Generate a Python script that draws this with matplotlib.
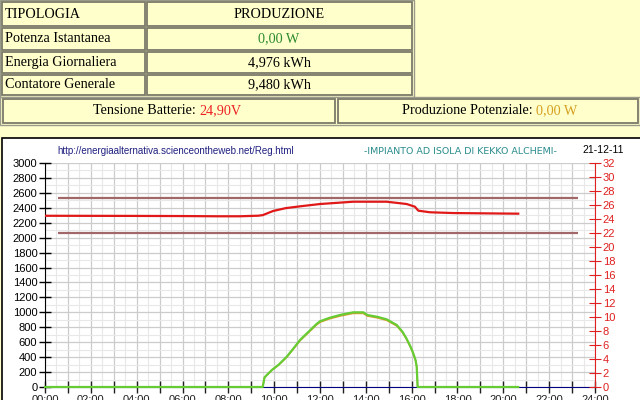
import matplotlib.pyplot as plt
from matplotlib.patches import Rectangle
from matplotlib.ticker import MultipleLocator, FuncFormatter

# table values
righe = ["Potenza Istantanea", "Energia Giornaliera", "Contatore Generale"]
valori = ["0,00 W", "4,976 kWh", "9,480 kWh"]
colori_valori = ["#2e8b2e", "black", "black"]
tensione = "24,90V"
potenziale = "0,00 W"

# solar power (W), left axis
ore_pv = [0, 9.5, 9.58, 9.9, 10.2, 10.55, 10.85, 11.13, 11.5, 11.85, 12.0, 12.4,
          12.87, 13.2, 13.45, 13.89, 14.07, 14.5, 14.91, 15.35, 15.6, 15.77,
          15.95, 16.07, 16.17, 16.22, 16.26, 20.65]
potenza = [0, 0, 130, 228, 300, 406, 520, 630, 740, 844, 880, 925,
           964, 985, 1000, 1000, 964, 940, 906, 830, 740, 652,
           540, 451, 360, 272, 0, 0]

# battery voltage (V), right axis
ore_v = [0, 2, 4, 6, 7.5, 8.5, 9.3, 9.5, 9.95, 10.5, 11.13, 12.0, 13.45, 14.91,
         15.78, 16.14, 16.29, 16.8, 17.82, 20.65]
volt = [24.46, 24.45, 24.44, 24.42, 24.39, 24.39, 24.47, 24.55, 25.14, 25.55,
        25.81, 26.14, 26.47, 26.47, 26.14, 25.76, 25.19, 24.96, 24.85, 24.76]

soglie = [27, 22]
soglie_ore = [0.57, 23.26]

GIALLO = "#ffffcc"

fig = plt.figure(figsize=(6.4, 4), dpi=100)
fig.patch.set_facecolor(GIALLO)

# overlay in pixel coordinates for the html-like tables
bg = fig.add_axes([0, 0, 1, 1])
bg.set_xlim(0, 640)
bg.set_ylim(400, 0)
bg.axis("off")

def cella(x0, y0, x1, y1):
    bg.add_patch(Rectangle((x0, y0), x1 - x0, y1 - y0, facecolor=GIALLO,
                           edgecolor="#7a7a6a", lw=1.3))

serif = dict(family="Liberation Serif", fontsize=10.2, va="center")

# first table
bg.add_patch(Rectangle((0, 0), 414, 97, facecolor=GIALLO, edgecolor="#9a9a8a", lw=1))
ys = [(2, 26), (28, 50), (52, 73), (75, 95)]
for y0, y1 in ys:
    cella(2, y0, 145, y1)
    cella(147, y0, 412, y1)
bg.text(5, 15, "TIPOLOGIA", **serif)
bg.text(279, 15, "PRODUZIONE", ha="center", **serif)
for i, (y0, y1) in enumerate(ys[1:]):
    yc = (y0 + y1) / 2
    bg.text(5, yc, righe[i], **serif)
    bg.text(279, yc, valori[i], ha="center", color=colori_valori[i], **serif)

# second table
bg.add_patch(Rectangle((0, 97), 640, 28, facecolor=GIALLO, edgecolor="#9a9a8a", lw=1))
cella(3, 99, 335, 123)
cella(338, 99, 638, 123)
bg.text(199, 111, "Tensione Batterie: ", ha="right", **serif)
bg.text(199, 111, tensione, ha="left", color="#ee2222", **serif)
bg.text(536, 111, "Produzione Potenziale: ", ha="right", **serif)
bg.text(536, 111, potenziale, ha="left", color="#d4a020", **serif)

# chart panel
bg.add_patch(Rectangle((2, 138), 640, 270, facecolor="white", edgecolor="black", lw=1.2))
bg.text(57, 151, "http://energiaalternativa.scienceontheweb.net/Reg.html",
        family="Liberation Sans", fontsize=7, color="#202080", va="center")
bg.text(460, 151, "-IMPIANTO AD ISOLA DI KEKKO ALCHEMI-",
        family="DejaVu Sans", fontsize=6.8, color="#2a8c8c", va="center", ha="center")
bg.text(603, 150, "21-12-11", family="Liberation Sans", fontsize=7.5,
        color="black", va="center", ha="center")

# main chart
ax = fig.add_axes([45 / 640, 1 - 387 / 400, 550 / 640, 224 / 400])
ax.set_facecolor("white")
ax.set_xlim(0, 24)
ax.set_ylim(0, 3000)
ax.xaxis.set_major_locator(MultipleLocator(1))
ax.xaxis.set_minor_locator(MultipleLocator(0.5))
ax.xaxis.set_major_formatter(FuncFormatter(
    lambda x, p: f"{int(round(x)):02d}:00" if int(round(x)) % 2 == 0 else ""))
ax.yaxis.set_major_locator(MultipleLocator(200))
ax.yaxis.set_minor_locator(MultipleLocator(100))
ax.grid(which="major", color="#cccccc", lw=0.9)
ax.grid(which="minor", color="#e8e8e8", lw=0.8)
ax.set_axisbelow(True)
ax.tick_params(which="major", direction="inout", length=9, width=1,
               labelsize=8, pad=1)
ax.tick_params(which="minor", length=0)
for lab in ax.get_xticklabels() + ax.get_yticklabels():
    lab.set_family("Liberation Sans")
ax.spines["top"].set_visible(False)
ax.spines["right"].set_visible(False)
ax.spines["bottom"].set_color("#000080")
ax.tick_params(axis="x", colors="#202020")

ax.plot(ore_pv, [p * 0.985 for p in potenza], color="#e09a30", lw=1.1, zorder=3)
ax.plot(ore_pv, potenza, color="#66cc33", lw=1.6, zorder=4, clip_on=False)

ax2 = ax.twinx()
ax2.set_ylim(0, 32)
ax2.yaxis.set_major_locator(MultipleLocator(2))
ax2.tick_params(axis="y", direction="inout", length=9, colors="#e02020",
                labelsize=8, pad=1)
for lab in ax2.get_yticklabels():
    lab.set_family("Liberation Sans")
for s in ["top", "left", "bottom"]:
    ax2.spines[s].set_visible(False)
ax2.spines["right"].set_color("#e02020")

ax2.hlines(soglie, soglie_ore[0], soglie_ore[1], color="#a06868", lw=1.6)
ax2.plot(ore_v, volt, color="#e01818", lw=1.6)

fig.savefig("out.png", dpi=100, facecolor=fig.get_facecolor())
